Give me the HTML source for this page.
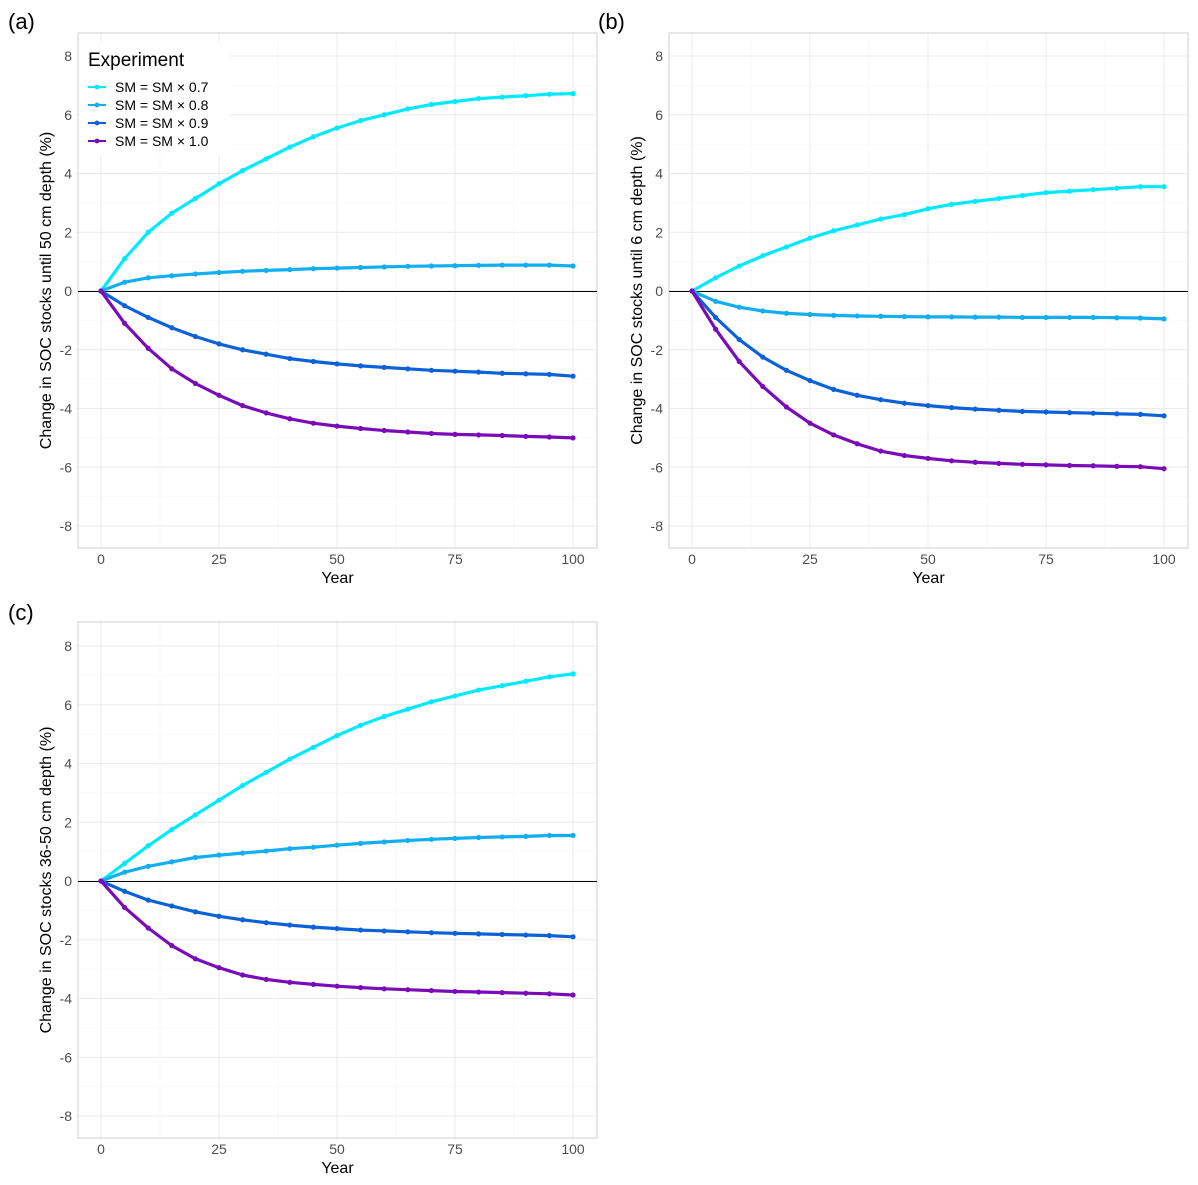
<!DOCTYPE html>
<html><head><meta charset="utf-8"><style>
body{margin:0;background:#fff;}
svg{display:block;font-family:"Liberation Sans",Arial,sans-serif;}
</style></head><body>
<svg id="chart" width="1198" height="1185" viewBox="0 0 1198 1185"></svg>
<script>
const years = [0,5,10,15,20,25,30,35,40,45,50,55,60,65,70,75,80,85,90,95,100];
const seriesNames = ["SM = SM × 0.7","SM = SM × 0.8","SM = SM × 0.9","SM = SM × 1.0"];
const colors = ["#00eaff","#12aef0","#0a62d6","#7a0cb8"];
const yTicks = [-8,-6,-4,-2,0,2,4,6,8];
const xTicks = [0,25,50,75,100];
const a07 = [0,1.1,2.0,2.65,3.15,3.65,4.1,4.5,4.9,5.25,5.55,5.8,6.0,6.2,6.35,6.45,6.55,6.6,6.65,6.7,6.72];
const a08 = [0,0.3,0.45,0.52,0.58,0.63,0.67,0.7,0.73,0.76,0.78,0.8,0.82,0.84,0.85,0.86,0.87,0.88,0.88,0.88,0.85];
const a09 = [0,-0.5,-0.9,-1.25,-1.55,-1.8,-2.0,-2.15,-2.3,-2.4,-2.48,-2.55,-2.6,-2.65,-2.7,-2.73,-2.76,-2.8,-2.82,-2.84,-2.9];
const a10 = [0,-1.1,-1.95,-2.65,-3.15,-3.55,-3.9,-4.15,-4.35,-4.5,-4.6,-4.68,-4.75,-4.8,-4.85,-4.88,-4.9,-4.92,-4.95,-4.97,-5.0];
const b07 = [0,0.45,0.85,1.2,1.5,1.8,2.05,2.25,2.45,2.6,2.8,2.95,3.05,3.15,3.25,3.35,3.4,3.45,3.5,3.55,3.55];
const b08 = [0,-0.35,-0.55,-0.68,-0.76,-0.8,-0.83,-0.85,-0.86,-0.87,-0.88,-0.88,-0.89,-0.89,-0.9,-0.9,-0.9,-0.9,-0.91,-0.92,-0.95];
const b09 = [0,-0.9,-1.65,-2.25,-2.7,-3.05,-3.35,-3.55,-3.7,-3.82,-3.9,-3.97,-4.02,-4.06,-4.1,-4.12,-4.14,-4.16,-4.18,-4.2,-4.25];
const b10 = [0,-1.3,-2.4,-3.25,-3.95,-4.5,-4.9,-5.2,-5.45,-5.6,-5.7,-5.78,-5.83,-5.87,-5.9,-5.92,-5.94,-5.95,-5.97,-5.98,-6.05];
const c07 = [0,0.6,1.2,1.75,2.25,2.75,3.25,3.7,4.15,4.55,4.95,5.3,5.6,5.85,6.1,6.3,6.5,6.65,6.8,6.95,7.05];
const c08 = [0,0.3,0.5,0.65,0.8,0.88,0.95,1.02,1.1,1.15,1.22,1.28,1.33,1.38,1.42,1.45,1.48,1.5,1.52,1.55,1.55];
const c09 = [0,-0.35,-0.65,-0.85,-1.05,-1.2,-1.32,-1.42,-1.5,-1.57,-1.62,-1.67,-1.7,-1.73,-1.76,-1.78,-1.8,-1.82,-1.84,-1.86,-1.9];
const c10 = [0,-0.9,-1.6,-2.2,-2.65,-2.95,-3.2,-3.35,-3.45,-3.52,-3.58,-3.63,-3.67,-3.7,-3.73,-3.76,-3.78,-3.8,-3.82,-3.84,-3.88];

const NS="http://www.w3.org/2000/svg";
const svg=document.getElementById('chart');
function mk(tag,attrs,parent){const e=document.createElementNS(NS,tag);for(const k in attrs)e.setAttribute(k,attrs[k]);(parent||svg).appendChild(e);return e;}

const panels=[
 {id:"a",tag:"(a)",l:78,r:597,t:33,b:548,x0:101,x1:573,y8:56,ym8:526,title:"Change in SOC stocks until 50 cm depth (%)",data:[a07,a08,a09,a10],legend:true},
 {id:"b",tag:"(b)",l:669,r:1188,t:33,b:548,x0:692,x1:1164,y8:56,ym8:526,title:"Change in SOC stocks until 6 cm depth (%)",data:[b07,b08,b09,b10]},
 {id:"c",tag:"(c)",l:78,r:597,t:622,b:1138,x0:101,x1:573,y8:646,ym8:1116,title:"Change in SOC stocks 36-50 cm depth (%)",data:[c07,c08,c09,c10]}
];

panels.forEach(p=>{
 const g=mk('g',{});
 
 
 const xs=v=>p.x0+(p.x1-p.x0)*v/100;
 const ys=v=>(p.y8+p.ym8)/2-(p.ym8-p.y8)/16*v;
 mk('rect',{x:p.l,y:p.t,width:p.r-p.l,height:p.b-p.t,fill:'#fff'},g);
 for(let v=-9;v<=9;v+=2){const y=ys(v);if(y>p.t&&y<p.b)mk('line',{x1:p.l,x2:p.r,y1:y,y2:y,stroke:'#f4f4f4','stroke-width':0.6},g);}
 for(let v=-12.5;v<=112.5;v+=25){const x=xs(v);if(x>p.l&&x<p.r)mk('line',{x1:x,x2:x,y1:p.t,y2:p.b,stroke:'#f4f4f4','stroke-width':0.6},g);}
 yTicks.forEach(v=>{const y=ys(v);mk('line',{x1:p.l,x2:p.r,y1:y,y2:y,stroke:'#ebebeb','stroke-width':1},g);
  const t=mk('text',{x:p.l-6,y:y+5,'text-anchor':'end','font-size':14,fill:'#4d4d4d'},g);t.textContent=v;
  });
 xTicks.forEach(v=>{const x=xs(v);mk('line',{x1:x,x2:x,y1:p.t,y2:p.b,stroke:'#ebebeb','stroke-width':1},g);
  const t=mk('text',{x:x,y:p.b+16,'text-anchor':'middle','font-size':14,fill:'#4d4d4d'},g);t.textContent=v;
  });
 mk('rect',{x:p.l,y:p.t,width:p.r-p.l,height:p.b-p.t,fill:'none',stroke:'#cfcfcf','stroke-width':1},g);
 const z=mk('line',{x1:p.l,x2:p.r,y1:Math.round(ys(0))+0.5,y2:Math.round(ys(0))+0.5,stroke:'#000','stroke-width':1},g);
 
 p.data.forEach((arr,si)=>{
  const d=arr.map((v,i)=>(i?'L':'M')+xs(years[i]).toFixed(1)+','+ys(v).toFixed(1)).join(' ');
  const pl=mk('path',{d:d,fill:'none',stroke:colors[si],'stroke-width':3.2,'stroke-linejoin':'round'},g);
  
  arr.forEach((v,i)=>{const c=mk('circle',{cx:xs(years[i]),cy:ys(v),r:2.6,fill:colors[si]},g);
   });
 });
 const tg=mk('text',{x:p.l===78?8:598,y:p.t===33?29:620,'font-size':22,fill:'#000'},g);tg.textContent=p.tag;
 
 const xt=mk('text',{x:(p.l+p.r)/2,y:p.b+35,'text-anchor':'middle','font-size':16,fill:'#000'},g);xt.textContent='Year';
 
 const cy=(p.t+p.b)/2,cx=p.l-27;
 const yt=mk('text',{x:cx,y:cy,'text-anchor':'middle','font-size':16,fill:'#000',transform:`rotate(-90 ${cx} ${cy})`},g);yt.textContent=p.title;
 
 if(p.legend){
  const lg=mk('g',{},g);
  
  mk('rect',{x:80,y:42,width:150,height:113,fill:'#fff'},lg);
  const lt=mk('text',{x:88,y:66,'font-size':19,fill:'#000'},lg);lt.textContent='Experiment';
  
  seriesNames.forEach((n,i)=>{const y=87+i*18;
   const e=mk('g',{},lg);
   
   mk('line',{x1:88,x2:106,y1:y,y2:y,stroke:colors[i],'stroke-width':2},e);
   mk('circle',{cx:97,cy:y,r:2.4,fill:colors[i]},e);
   const t=mk('text',{x:115,y:y+5,'font-size':14,fill:'#000'},e);t.textContent=n;});
 }
});
</script>
</body></html>
